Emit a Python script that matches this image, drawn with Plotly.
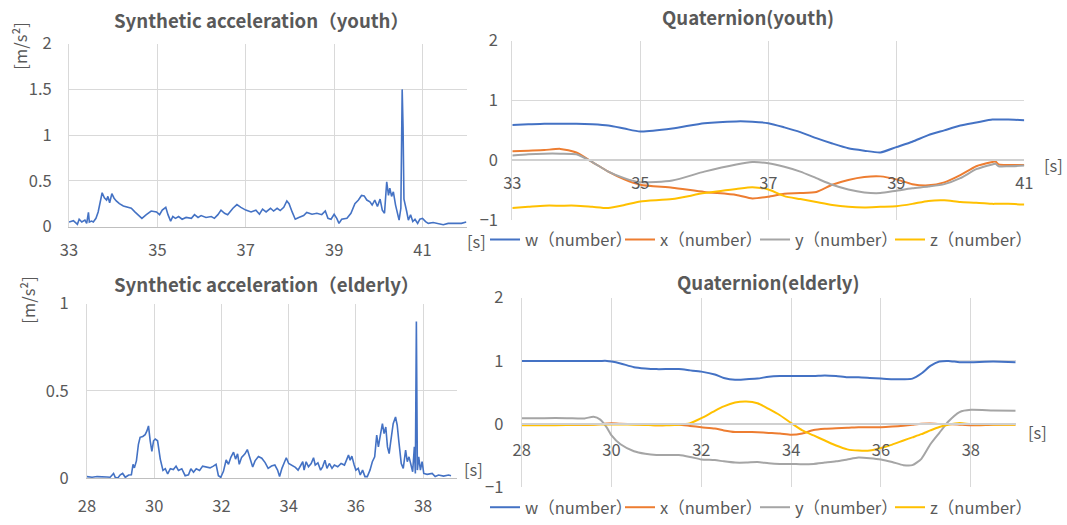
import plotly.graph_objects as go

# ---------------- data ----------------
acc_youth_t = [33.0, 33.1, 33.19, 33.23, 33.29, 33.36, 33.4, 33.44, 33.46, 33.51, 33.55, 33.61, 33.66, 33.7,
               33.75, 33.8, 33.85, 33.88, 33.92, 33.97, 34.02, 34.07, 34.14, 34.23, 34.34, 34.41, 34.49, 34.56,
               34.65, 34.75, 34.86, 34.98, 35.05, 35.11, 35.19, 35.24, 35.3, 35.35, 35.41, 35.48, 35.56, 35.65,
               35.77, 35.84, 35.92, 35.99, 36.1, 36.22, 36.29, 36.37, 36.44, 36.52, 36.59, 36.71, 36.8, 36.89,
               37.0, 37.12, 37.23, 37.31, 37.38, 37.46, 37.56, 37.63, 37.71, 37.78, 37.86, 37.93, 37.98, 38.05,
               38.12, 38.2, 38.31, 38.38, 38.5, 38.61, 38.72, 38.8, 38.86, 38.93, 39.0, 39.06, 39.11, 39.17,
               39.29, 39.38, 39.47, 39.55, 39.62, 39.68, 39.74, 39.81, 39.86, 39.92, 39.98, 40.04, 40.09, 40.14,
               40.19, 40.23, 40.26, 40.3, 40.34, 40.39, 40.44, 40.47, 40.51, 40.54, 40.56, 40.58, 40.64, 40.68,
               40.73, 40.78, 40.83, 40.89, 40.94, 41.0, 41.07, 41.13, 41.24, 41.35, 41.47, 41.58, 41.73, 41.88,
               41.99]
acc_youth_v = [0.05, 0.065, 0.025, 0.08, 0.05, 0.07, 0.035, 0.155, 0.05, 0.06, 0.05, 0.09, 0.16, 0.27,
               0.37, 0.315, 0.29, 0.33, 0.26, 0.36, 0.31, 0.28, 0.25, 0.225, 0.21, 0.2, 0.16, 0.13,
               0.09, 0.13, 0.17, 0.16, 0.13, 0.18, 0.21, 0.13, 0.06, 0.11, 0.09, 0.11, 0.08, 0.1,
               0.09, 0.13, 0.1, 0.12, 0.1, 0.11, 0.09, 0.13, 0.18, 0.145, 0.13, 0.2, 0.24, 0.21,
               0.18, 0.16, 0.18, 0.135, 0.19, 0.16, 0.2, 0.17, 0.2, 0.175, 0.21, 0.28, 0.25, 0.16,
               0.08, 0.1, 0.12, 0.155, 0.135, 0.145, 0.13, 0.17, 0.09, 0.08, 0.135, 0.09, 0.035, 0.08,
               0.09, 0.145, 0.25, 0.29, 0.34, 0.335, 0.29, 0.27, 0.235, 0.29, 0.22, 0.30, 0.18, 0.145,
               0.49, 0.34, 0.42, 0.33, 0.38, 0.235, 0.13, 0.07, 0.2, 1.5, 1.08, 0.3, 0.17, 0.07,
               0.13, 0.055, 0.08, 0.035, 0.08, 0.09, 0.055, 0.035, 0.045, 0.035, 0.02, 0.035, 0.035, 0.035,
               0.05]

acc_elder_t = [28.0, 28.15, 28.3, 28.45, 28.59, 28.69, 28.79, 28.84, 28.91, 28.99, 29.06, 29.14, 29.24, 29.32,
               29.37, 29.41, 29.47, 29.53, 29.58, 29.66, 29.73, 29.78, 29.83, 29.88, 29.93, 29.98, 30.03, 30.1,
               30.18, 30.26, 30.33, 30.4, 30.48, 30.57, 30.65, 30.72, 30.82, 30.92, 31.02, 31.09, 31.17, 31.25,
               31.35, 31.44, 31.54, 31.66, 31.76, 31.84, 31.91, 31.98, 32.06, 32.14, 32.21, 32.28, 32.36, 32.42,
               32.48, 32.53, 32.6, 32.7, 32.77, 32.85, 32.93, 33.0, 33.1, 33.2, 33.3, 33.39, 33.49, 33.59,
               33.67, 33.73, 33.8, 33.88, 33.93, 34.0, 34.1, 34.2, 34.28, 34.35, 34.42, 34.46, 34.52, 34.59,
               34.67, 34.74, 34.79, 34.87, 34.95, 35.01, 35.08, 35.14, 35.21, 35.29, 35.36, 35.46, 35.56, 35.66,
               35.73, 35.78, 35.83, 35.88, 35.95, 36.0, 36.07, 36.13, 36.2, 36.27, 36.34, 36.42, 36.49, 36.56,
               36.62, 36.67, 36.72, 36.79, 36.84, 36.89, 36.94, 36.99, 37.03, 37.11, 37.18, 37.23, 37.28, 37.35,
               37.41, 37.48, 37.53, 37.58, 37.63, 37.69, 37.74, 37.77, 37.8, 37.83, 37.87, 37.92, 37.97, 38.02,
               38.12, 38.27, 38.36, 38.46, 38.61, 38.76, 38.83]
acc_elder_v = [0.01, 0.006, 0.01, 0.011, 0.008, 0.006, 0.028, 0.006, 0.0, 0.02, 0.028, 0.006, 0.019, 0.02,
               0.08, 0.06, 0.1, 0.195, 0.235, 0.24, 0.25, 0.27, 0.30, 0.215, 0.155, 0.215, 0.225, 0.215,
               0.11, 0.045, 0.055, 0.025, 0.055, 0.05, 0.07, 0.045, 0.055, 0.015, 0.02, 0.055, 0.035, 0.055,
               0.045, 0.07, 0.065, 0.06, 0.07, 0.08, 0.015, 0.006, 0.04, 0.105, 0.08, 0.12, 0.15, 0.11,
               0.14, 0.08, 0.12, 0.14, 0.165, 0.11, 0.065, 0.1, 0.125, 0.115, 0.09, 0.057, 0.07, 0.076,
               0.047, 0.01, 0.057, 0.095, 0.118, 0.085, 0.076, 0.063, 0.047, 0.076, 0.095, 0.047, 0.095, 0.066,
               0.085, 0.118, 0.076, 0.089, 0.047, 0.066, 0.104, 0.057, 0.085, 0.057, 0.076, 0.066, 0.085, 0.076,
               0.104, 0.133, 0.104, 0.127, 0.076, 0.047, 0.057, 0.019, 0.047, 0.01, 0.01, 0.047, 0.095, 0.123,
               0.247, 0.18, 0.237, 0.313, 0.256, 0.294, 0.18, 0.142, 0.2, 0.313, 0.351, 0.304, 0.209, 0.085,
               0.057, 0.161, 0.095, 0.123, 0.085, 0.038, 0.18, 0.028, 0.898, 0.047, 0.123, 0.047, 0.095, 0.028,
               0.023, 0.028, 0.01, 0.019, 0.013, 0.019, 0.015]

q_youth_t = [33, 33.25, 33.5, 33.75, 34, 34.25, 34.5, 34.75, 35, 35.5, 36, 36.5, 36.75, 37, 37.25, 37.5,
             37.75, 38, 38.25, 38.5, 38.75, 39, 39.25, 39.5, 39.75, 40, 40.25, 40.5, 40.55, 40.6, 40.75, 41]
q_youth_w = [0.59, 0.60, 0.61, 0.61, 0.61, 0.60, 0.58, 0.53, 0.48, 0.53, 0.62, 0.65, 0.645, 0.62, 0.55, 0.47,
             0.37, 0.28, 0.20, 0.16, 0.13, 0.22, 0.31, 0.42, 0.50, 0.58, 0.63, 0.68, 0.68, 0.68, 0.68, 0.67]
q_youth_x = [0.15, 0.16, 0.17, 0.19, 0.13, -0.03, -0.19, -0.32, -0.41, -0.46, -0.53, -0.58, -0.64, -0.61, -0.56, -0.55,
             -0.53, -0.41, -0.33, -0.28, -0.27, -0.32, -0.40, -0.42, -0.37, -0.25, -0.10, -0.03, -0.02, -0.07, -0.08, -0.08]
q_youth_y = [0.08, 0.10, 0.11, 0.11, 0.10, -0.03, -0.19, -0.30, -0.37, -0.34, -0.19, -0.07, -0.03, -0.05, -0.11, -0.19,
             -0.30, -0.41, -0.49, -0.54, -0.55, -0.51, -0.47, -0.44, -0.40, -0.30, -0.15, -0.07, -0.06, -0.10, -0.10, -0.09]
q_youth_z = [-0.80, -0.78, -0.76, -0.76, -0.76, -0.78, -0.80, -0.75, -0.69, -0.65, -0.55, -0.48, -0.45, -0.49, -0.60, -0.65,
             -0.70, -0.75, -0.78, -0.79, -0.78, -0.77, -0.73, -0.68, -0.67, -0.70, -0.71, -0.73, -0.73, -0.73, -0.73, -0.74]

q_elder_t = [28, 28.5, 29, 29.4, 29.6, 29.75, 29.9, 30, 30.2, 30.5, 30.75, 31, 31.5, 31.75, 32, 32.3, 32.5,
             32.75, 33, 33.25, 33.5, 33.75, 34, 34.25, 34.5, 34.75, 35, 35.25, 35.5, 35.75, 36, 36.25, 36.5,
             36.7, 36.9, 37.1, 37.3, 37.5, 37.75, 38, 38.5, 39]
q_elder_w = [1.0, 1.0, 1.0, 1.0, 1.0, 1.0, 1.0, 0.99, 0.96, 0.90, 0.88, 0.87, 0.87, 0.85, 0.83, 0.785, 0.73,
             0.70, 0.71, 0.72, 0.75, 0.76, 0.76, 0.76, 0.76, 0.77, 0.76, 0.74, 0.74, 0.73, 0.72, 0.71, 0.71,
             0.72, 0.80, 0.92, 0.99, 1.0, 0.98, 0.98, 0.99, 0.98]
q_elder_x = [-0.01, -0.01, -0.01, -0.01, -0.005, 0.0, 0.01, 0.015, 0.005, 0.0, -0.01, -0.02, -0.01, -0.03, -0.05, -0.07, -0.10,
             -0.125, -0.125, -0.13, -0.14, -0.15, -0.17, -0.15, -0.095, -0.075, -0.065, -0.06, -0.05, -0.05, -0.05, -0.04, -0.025,
             -0.01, 0.005, 0.01, 0.0, 0.0, -0.01, -0.02, -0.01, -0.005]
q_elder_y = [0.094, 0.094, 0.094, 0.09, 0.115, 0.07, -0.06, -0.18, -0.32, -0.43, -0.47, -0.49, -0.49, -0.52, -0.56, -0.57, -0.59,
             -0.61, -0.61, -0.60, -0.62, -0.63, -0.63, -0.635, -0.63, -0.61, -0.59, -0.56, -0.53, -0.54, -0.56, -0.60, -0.65,
             -0.65, -0.55, -0.32, -0.14, 0.04, 0.19, 0.225, 0.215, 0.21]
q_elder_z = [-0.02, -0.02, -0.015, -0.01, -0.01, -0.005, -0.005, -0.005, -0.005, -0.01, -0.015, -0.02, -0.01, 0.015, 0.094, 0.21, 0.28,
             0.34, 0.356, 0.33, 0.24, 0.14, 0.016, -0.10, -0.18, -0.26, -0.34, -0.40, -0.42, -0.42, -0.38, -0.325, -0.26,
             -0.21, -0.16, -0.10, -0.045, -0.01, 0.016, 0.0, -0.005, -0.01]

series_names = ["w（number）", "x（number）", "y（number）", "z（number）"]
series_colors = ["#4472C4", "#ED7D31", "#A5A5A5", "#FFC000"]
titles = ["Synthetic acceleration（youth）", "Quaternion(youth)",
          "Synthetic acceleration（elderly）", "Quaternion(elderly)"]
acc_unit = "[m/s²]"
time_unit = "[s]"

assert len(acc_youth_t) == len(acc_youth_v)
assert len(acc_elder_t) == len(acc_elder_v)

# ---------------- layout helpers ----------------
W, H = 1067, 525
FONT = "Noto Sans CJK JP, Noto Sans, sans-serif"
TXT = "#595959"
GRID = "#D9D9D9"
FS = 16.5


def px(x):
    return x / W


def py(y):
    return (H - y) / H


fig = go.Figure()

fig.add_trace(go.Scatter(x=acc_youth_t, y=acc_youth_v, mode="lines", xaxis="x", yaxis="y",
                         line=dict(color="#4472C4", width=1.6), showlegend=False))
fig.add_trace(go.Scatter(x=acc_elder_t, y=acc_elder_v, mode="lines", xaxis="x3", yaxis="y3",
                         line=dict(color="#4472C4", width=1.6), showlegend=False))

for name, col, vals in zip(series_names, series_colors, [q_youth_w, q_youth_x, q_youth_y, q_youth_z]):
    fig.add_trace(go.Scatter(x=q_youth_t, y=vals, mode="lines", xaxis="x2", yaxis="y2", name=name,
                             line=dict(color=col, width=2, shape="spline", smoothing=0.6), legend="legend"))
for name, col, vals in zip(series_names, series_colors, [q_elder_w, q_elder_x, q_elder_y, q_elder_z]):
    fig.add_trace(go.Scatter(x=q_elder_t, y=vals, mode="lines", xaxis="x4", yaxis="y4", name=name,
                             line=dict(color=col, width=2, shape="spline", smoothing=0.6), legend="legend2"))

tickfont = dict(family=FONT, size=FS, color=TXT)
common_x = dict(showgrid=True, gridcolor=GRID, gridwidth=1, zeroline=False, ticks="", automargin=False,
                tickfont=tickfont, showline=True, linecolor="#BFBFBF", linewidth=1, fixedrange=True)
common_y = dict(showgrid=True, gridcolor=GRID, gridwidth=1, zeroline=False, ticks="", automargin=False,
                tickfont=tickfont, showline=True, linecolor=GRID, linewidth=1, fixedrange=True)

legend_common = dict(orientation="h", xanchor="left", yanchor="middle",
                     font=dict(family=FONT, size=FS, color=TXT), bgcolor="rgba(0,0,0,0)",
                     entrywidth=90, tracegroupgap=0, itemclick=False, itemdoubleclick=False)

fig.update_layout(
    template="none",
    width=W, height=H, autosize=False,
    margin=dict(l=0, r=0, t=0, b=0, pad=0),
    paper_bgcolor="white", plot_bgcolor="white",
    font=dict(family=FONT, color=TXT),
    hovermode=False,
    xaxis=dict(domain=[px(69), px(466.7)], range=[33, 42], tickvals=[33, 35, 37, 39, 41],
               anchor="y", ticklabelstandoff=9, **common_x),
    yaxis=dict(domain=[py(228.3), py(44)], range=[0, 2], tickvals=[0, 0.5, 1, 1.5, 2],
               anchor="x", ticklabelstandoff=13, **common_y),
    xaxis2=dict(domain=[px(512.3), px(1024.3)], range=[33, 41], tickvals=[33, 35, 37, 39, 41],
                anchor="free", position=py(161.7), ticklabelstandoff=8,
                **{**common_x, "linecolor": "#D0D0D0", "linewidth": 2}),
    yaxis2=dict(domain=[py(221.7), py(41)], range=[-1, 2], tickvals=[-1, 0, 1, 2],
                anchor="x2", ticklabelstandoff=10, **common_y),
    xaxis3=dict(domain=[px(87), px(456.7)], range=[28, 39], tickvals=[28, 30, 32, 34, 36, 38],
                anchor="y3", ticklabelstandoff=13, **common_x),
    yaxis3=dict(domain=[py(482), py(306)], range=[0, 1], tickvals=[0, 0.5, 1],
                anchor="x3", ticklabelstandoff=14, **common_y),
    xaxis4=dict(domain=[px(521.7), px(1015.7)], range=[28, 39], tickvals=[28, 30, 32, 34, 36, 38],
                anchor="free", position=py(427.7), ticklabelstandoff=11,
                **{**common_x, "linecolor": "#D0D0D0", "linewidth": 2}),
    yaxis4=dict(domain=[py(491), py(300)], range=[-1, 2], tickvals=[-1, 0, 1, 2],
                anchor="x4", ticklabelstandoff=14, **common_y),
    legend=dict(x=px(485), y=py(241.7), **legend_common),
    legend2=dict(x=px(485), y=py(511.7), **legend_common),
)

ann = []
title_pos = [(261, 20), (748, 17), (266, 286), (768, 284)]
for t, (x, y) in zip(titles, title_pos):
    ann.append(dict(text="<b>" + t + "</b>", x=px(x), y=py(y), xref="paper", yref="paper",
                    showarrow=False, xanchor="center", yanchor="middle",
                    font=dict(family=FONT, size=18.6, color=TXT)))
for (x, y) in [(20, 47), (28, 303)]:
    ann.append(dict(text=acc_unit, x=px(x), y=py(y), xref="paper", yref="paper", textangle=-90,
                    showarrow=False, xanchor="center", yanchor="middle",
                    font=dict(family=FONT, size=FS, color=TXT)))
for (x, y) in [(476, 243), (473, 473), (1053, 166), (1037, 435)]:
    ann.append(dict(text=time_unit, x=px(x), y=py(y), xref="paper", yref="paper",
                    showarrow=False, xanchor="center", yanchor="middle",
                    font=dict(family=FONT, size=FS, color=TXT)))
fig.update_layout(annotations=ann)

fig.write_html("out.html", config={"displayModeBar": False},
               post_script="document.body.style.margin='0px';")
